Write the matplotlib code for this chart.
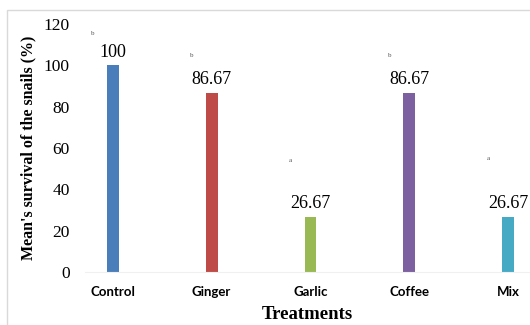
import matplotlib.pyplot as plt
from matplotlib.patches import Rectangle

treatments = ['Control', 'Ginger', 'Garlic', 'Coffee', 'Mix']
survival = [100, 86.67, 26.67, 86.67, 26.67]
value_labels = ['100', '86.67', '26.67', '86.67', '26.67']
letters = ['b', 'b', 'a', 'b', 'a']
letter_y = [115.5, 105, 54, 105, 55]
colors = ['#4a7ebb', '#be4b48', '#98b954', '#7d60a0', '#46aac5']

fig = plt.figure(figsize=(5.3, 3.25), dpi=100)
# chart frame (light gray border like the original screenshot)
fig.patches.append(Rectangle((7/530, -0.02), 1.0, 1 - 10/325 + 0.02,
                             transform=fig.transFigure, fill=False,
                             edgecolor='#d9d9d9', linewidth=1))
ax = fig.add_axes([85/530, (325-272)/325, (530-85)/530, (272-24)/325])

x = range(len(treatments))
ax.bar(x, survival, width=0.12, color=colors)

for i, v in enumerate(survival):
    ax.text(i, v + 2.2, value_labels[i], ha='center', va='bottom',
            fontsize=13, family='Liberation Serif')
    ax.text(i - 0.2, letter_y[i], letters[i], ha='center', va='center',
            fontsize=5, family='Liberation Serif', color='#555555')

ax.set_xlim(-0.28, 4.22)
ax.set_ylim(0, 120)
ax.set_yticks([0, 20, 40, 60, 80, 100, 120])
ax.set_xticks(list(x))
ax.set_xticklabels(treatments, fontsize=9.5, fontweight='bold', family='Lato')
for lbl in ax.get_yticklabels():
    lbl.set_family('Liberation Serif')
    lbl.set_fontsize(12.5)
ax.tick_params(axis='y', length=0, pad=11)
ax.tick_params(axis='x', length=0, pad=10)

for s in ['top', 'right', 'left']:
    ax.spines[s].set_visible(False)
ax.spines['bottom'].set_color('#f0f0f0')

ax.set_ylabel("Mean's survival of the snails (%)", fontsize=11.5,
              fontweight='bold', family='Liberation Serif', labelpad=5)
ax.set_xlabel('Treatments', fontsize=13.5, fontweight='bold',
              family='Liberation Serif', labelpad=6)

fig.savefig('out.png', dpi=100)
